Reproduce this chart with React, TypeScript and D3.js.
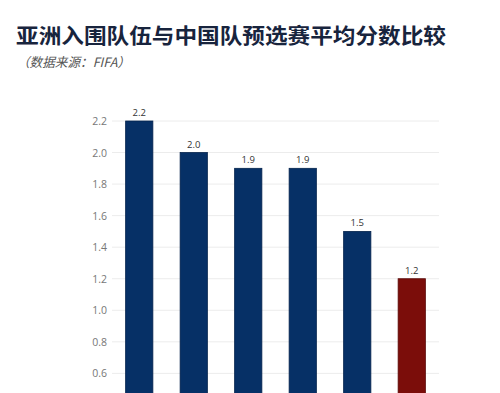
import React, { useRef, useEffect } from "react";
import * as d3 from "d3";

const title = "亚洲入围队伍与中国队预选赛平均分数比较";
const subtitle = "（数据来源：FIFA）";
const teams = ["伊朗", "韩国", "日本", "沙特", "澳大利亚", "中国"];
const avgPoints = [2.2, 2.0, 1.9, 1.9, 1.5, 1.2];
const yTicks = [0, 0.2, 0.4, 0.6, 0.8, 1.0, 1.2, 1.4, 1.6, 1.8, 2.0, 2.2];
const highlight = "中国";

export default function App() {
  const svgRef = useRef<SVGSVGElement>(null);

  useEffect(() => {
    document.body.style.margin = "0";
    if (!svgRef.current) return;
    const svg = d3.select(svgRef.current);
    svg.selectAll("*").remove();

    const width = 500;
    const height = 393;
    svg.attr("width", width).attr("height", height);

    svg.append("rect").attr("width", width).attr("height", height).attr("fill", "#fff");

    // Title
    svg
      .append("text")
      .attr("x", 16)
      .attr("y", 43)
      .attr("fill", "#18243d")
      .attr("font-size", "21px")
      .attr("font-weight", 700)
      .attr("font-family", "'Noto Sans CJK SC', sans-serif")
      .attr("textLength", 430)
      .attr("lengthAdjust", "spacingAndGlyphs")
      .text(title);

    svg
      .append("text")
      .attr("x", 17)
      .attr("y", 67)
      .attr("fill", "#555")
      .attr("font-size", "13px")
      .attr("font-style", "italic")
      .attr("font-family", "'Noto Sans CJK SC', sans-serif")
      .attr("textLength", 113)
      .attr("lengthAdjust", "spacingAndGlyphs")
      .text(subtitle);

    const x = d3
      .scaleBand()
      .domain(teams)
      .range([112, 439])
      .paddingInner(0.5)
      .paddingOuter(0.25);
    const y = d3.scaleLinear().domain([0, 2.2]).range([468, 121]);

    // Grid
    svg
      .append("g")
      .selectAll("line")
      .data(yTicks)
      .enter()
      .append("line")
      .attr("x1", 112)
      .attr("x2", 439)
      .attr("y1", (d) => y(d))
      .attr("y2", (d) => y(d))
      .attr("stroke", "#ececec")
      .attr("stroke-width", 1);

    // Y axis labels (only those inside the visible frame)
    svg
      .append("g")
      .selectAll("text")
      .data(yTicks.filter((d) => y(d) + 6 < height))
      .enter()
      .append("text")
      .attr("x", 107)
      .attr("y", (d) => y(d) + 4)
      .attr("text-anchor", "end")
      .attr("fill", "#777")
      .attr("font-size", "10.5px")
      .attr("font-family", "'Open Sans', sans-serif")
      .text((d) => d.toFixed(1));

    // Bars
    svg
      .append("g")
      .selectAll("rect")
      .data(avgPoints)
      .enter()
      .append("rect")
      .attr("x", (_, i) => x(teams[i]) || 0)
      .attr("y", (d) => y(d))
      .attr("width", x.bandwidth())
      .attr("height", (d) => y(0) - y(d))
      .attr("fill", (_, i) => (teams[i] === highlight ? "#7b0d0a" : "#063066"))
      .attr("stroke", (_, i) => (teams[i] === highlight ? "#5a0a08" : "#04234d"))
      .attr("stroke-width", 0.8);

    // Value labels
    svg
      .append("g")
      .selectAll("text")
      .data(avgPoints)
      .enter()
      .append("text")
      .attr("x", (_, i) => (x(teams[i]) || 0) + x.bandwidth() / 2)
      .attr("y", (d) => y(d) - 5)
      .attr("text-anchor", "middle")
      .attr("fill", "#333")
      .attr("font-size", "9.5px")
      .attr("font-family", "'Open Sans', sans-serif")
      .text((d) => d.toFixed(1));
  }, []);

  return <svg ref={svgRef} style={{ display: "block" }} />;
}
